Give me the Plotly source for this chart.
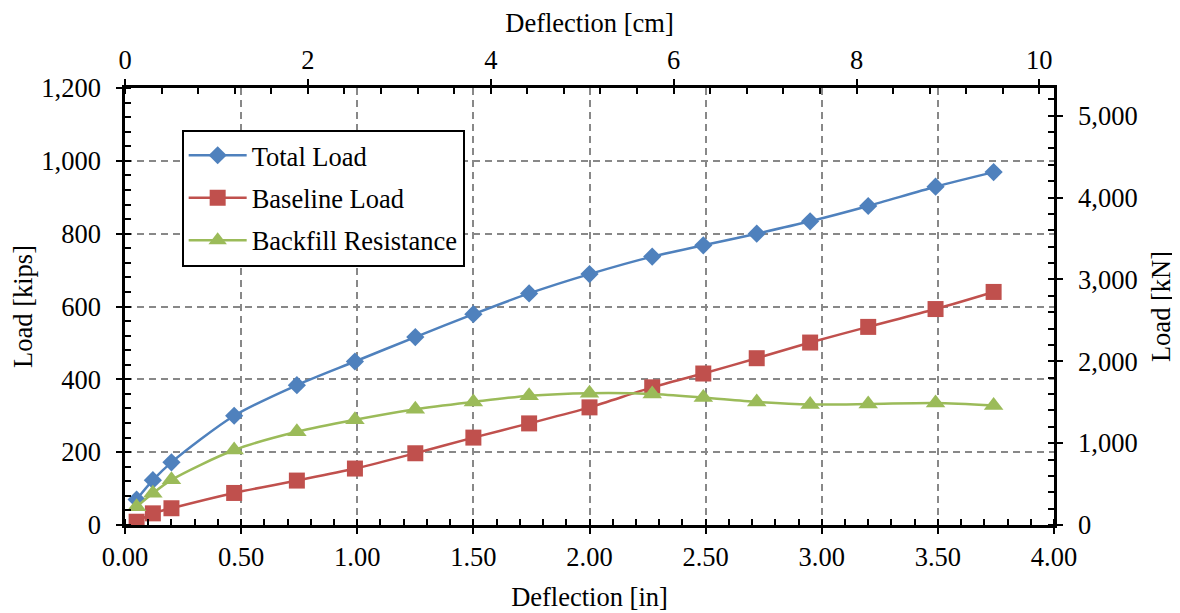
import plotly.graph_objects as go

# ---- data ----
deflection_in = [0.05, 0.12, 0.20, 0.47, 0.74, 0.99, 1.25, 1.50, 1.74, 2.00, 2.27, 2.49, 2.72, 2.95, 3.20, 3.49, 3.74]
total_load = [70, 123, 172, 300, 384, 449, 516, 579, 636, 689, 737, 768, 800, 834, 876, 929, 969]
baseline_load = [9, 32, 46, 88, 122, 155, 197, 240, 279, 323, 378, 416, 458, 501, 544, 593, 640]
backfill_resistance = [50, 87, 124, 206, 256, 289, 318, 338, 355, 362, 360, 350, 338, 331, 332, 335, 328]

series_names = ["Total Load", "Baseline Load", "Backfill Resistance"]
series_colors = ["#4F81BD", "#C0504D", "#9BBB59"]
series_symbols = ["diamond", "square", "triangle-up"]
series_sizes = [14, 16, 17]

X_MAX_IN = 4.0
Y_MAX_KIPS = 1200
IN_TO_CM = 2.54
KIPS_TO_KN = 4.44822

FONT = "Liberation Serif"
FS = 26.5

fig = go.Figure()
for name, vals, col, sym, sz in zip(series_names, [total_load, baseline_load, backfill_resistance],
                                    series_colors, series_symbols, series_sizes):
    fig.add_trace(go.Scatter(
        x=deflection_in, y=vals, name=name, mode="lines+markers",
        line=dict(color=col, width=2.5, shape="spline", smoothing=0.8),
        marker=dict(symbol=sym, size=sz, color=col),
        legendgroup=name,
    ))

# hidden trace to anchor secondary axes (converted units)
fig.add_trace(go.Scatter(
    x=[v * IN_TO_CM for v in deflection_in], y=[v * KIPS_TO_KN for v in total_load],
    xaxis="x2", yaxis="y2", mode="markers", marker=dict(opacity=0), showlegend=False,
    hoverinfo="skip",
))

axis_common = dict(
    showline=True, linecolor="black", linewidth=2.5,
    ticks="outside", ticklen=6, tickwidth=2, tickcolor="black",
    tickfont=dict(family=FONT, size=FS, color="black"),
    zeroline=False, automargin=False,
)
grid = dict(showgrid=True, gridcolor="#888888", gridwidth=1.5, griddash="7px,5px")
title_font = dict(family=FONT, size=FS, color="black")
overlay_common = dict(ticks="inside", ticklen=6, tickwidth=2, tickcolor="black",
                      showticklabels=False, showgrid=False, showline=False, zeroline=False,
                      automargin=False)

fig.update_layout(
    width=1180, height=613,
    margin=dict(l=117, r=134, t=80, b=96, autoexpand=False),
    paper_bgcolor="white", plot_bgcolor="white",
    font=dict(family=FONT, size=FS, color="black"),
    xaxis=dict(
        range=[0, X_MAX_IN], dtick=0.5, tickformat=".2f",
        title=dict(text="Deflection [in]", font=title_font, standoff=17),
        minor=dict(dtick=0.1, ticks="inside", ticklen=6, tickwidth=2, tickcolor="black", showgrid=False),
        **grid, **axis_common,
    ),
    yaxis=dict(
        range=[0, Y_MAX_KIPS], dtick=200, tickformat=",", ticklabelstandoff=10,
        title=dict(text="Load [kips]", font=title_font, standoff=15),
        minor=dict(dtick=40, ticks="inside", ticklen=6, tickwidth=2, tickcolor="black", showgrid=False),
        **grid, **axis_common,
    ),
    xaxis2=dict(
        overlaying="x", side="top", anchor="y",
        range=[0, X_MAX_IN * IN_TO_CM], dtick=2, tickformat="d",
        title=dict(text="Deflection [cm]", font=title_font, standoff=14),
        minor=dict(dtick=0.4, ticks="inside", ticklen=6, tickwidth=2, tickcolor="black", showgrid=False),
        showgrid=False, **axis_common,
    ),
    yaxis2=dict(
        overlaying="y", side="right", anchor="x",
        range=[0, Y_MAX_KIPS * KIPS_TO_KN], dtick=1000, tickformat=",", ticklabelstandoff=10,
        title=dict(text="Load [kN]", font=title_font, standoff=15),
        minor=dict(dtick=200, ticks="inside", ticklen=6, tickwidth=2, tickcolor="black", showgrid=False),
        showgrid=False, **axis_common,
    ),
    # inner halves of the crossing major ticks
    xaxis3=dict(overlaying="x", side="bottom", anchor="y", range=[0, X_MAX_IN], dtick=0.5, **overlay_common),
    yaxis3=dict(overlaying="y", side="left", anchor="x", range=[0, Y_MAX_KIPS], dtick=200, **overlay_common),
    xaxis4=dict(overlaying="x", side="top", anchor="y", range=[0, X_MAX_IN * IN_TO_CM], dtick=2, **overlay_common),
    yaxis4=dict(overlaying="y", side="right", anchor="x", range=[0, Y_MAX_KIPS * KIPS_TO_KN], dtick=1000,
                **overlay_common),
    legend=dict(
        x=0.061, y=0.905, xanchor="left", yanchor="top",
        bgcolor="white", bordercolor="black", borderwidth=2,
        font=dict(family=FONT, size=FS, color="black"),
        traceorder="grouped", tracegroupgap=5, itemwidth=58,
    ),
    showlegend=True,
)

# anchor traces for the tick-only overlay axes
fig.add_trace(go.Scatter(x=[0], y=[0], xaxis="x3", yaxis="y3", mode="markers",
                         marker=dict(opacity=0), showlegend=False, hoverinfo="skip"))
fig.add_trace(go.Scatter(x=[0], y=[0], xaxis="x4", yaxis="y4", mode="markers",
                         marker=dict(opacity=0), showlegend=False, hoverinfo="skip"))

fig.write_html("out.html")
